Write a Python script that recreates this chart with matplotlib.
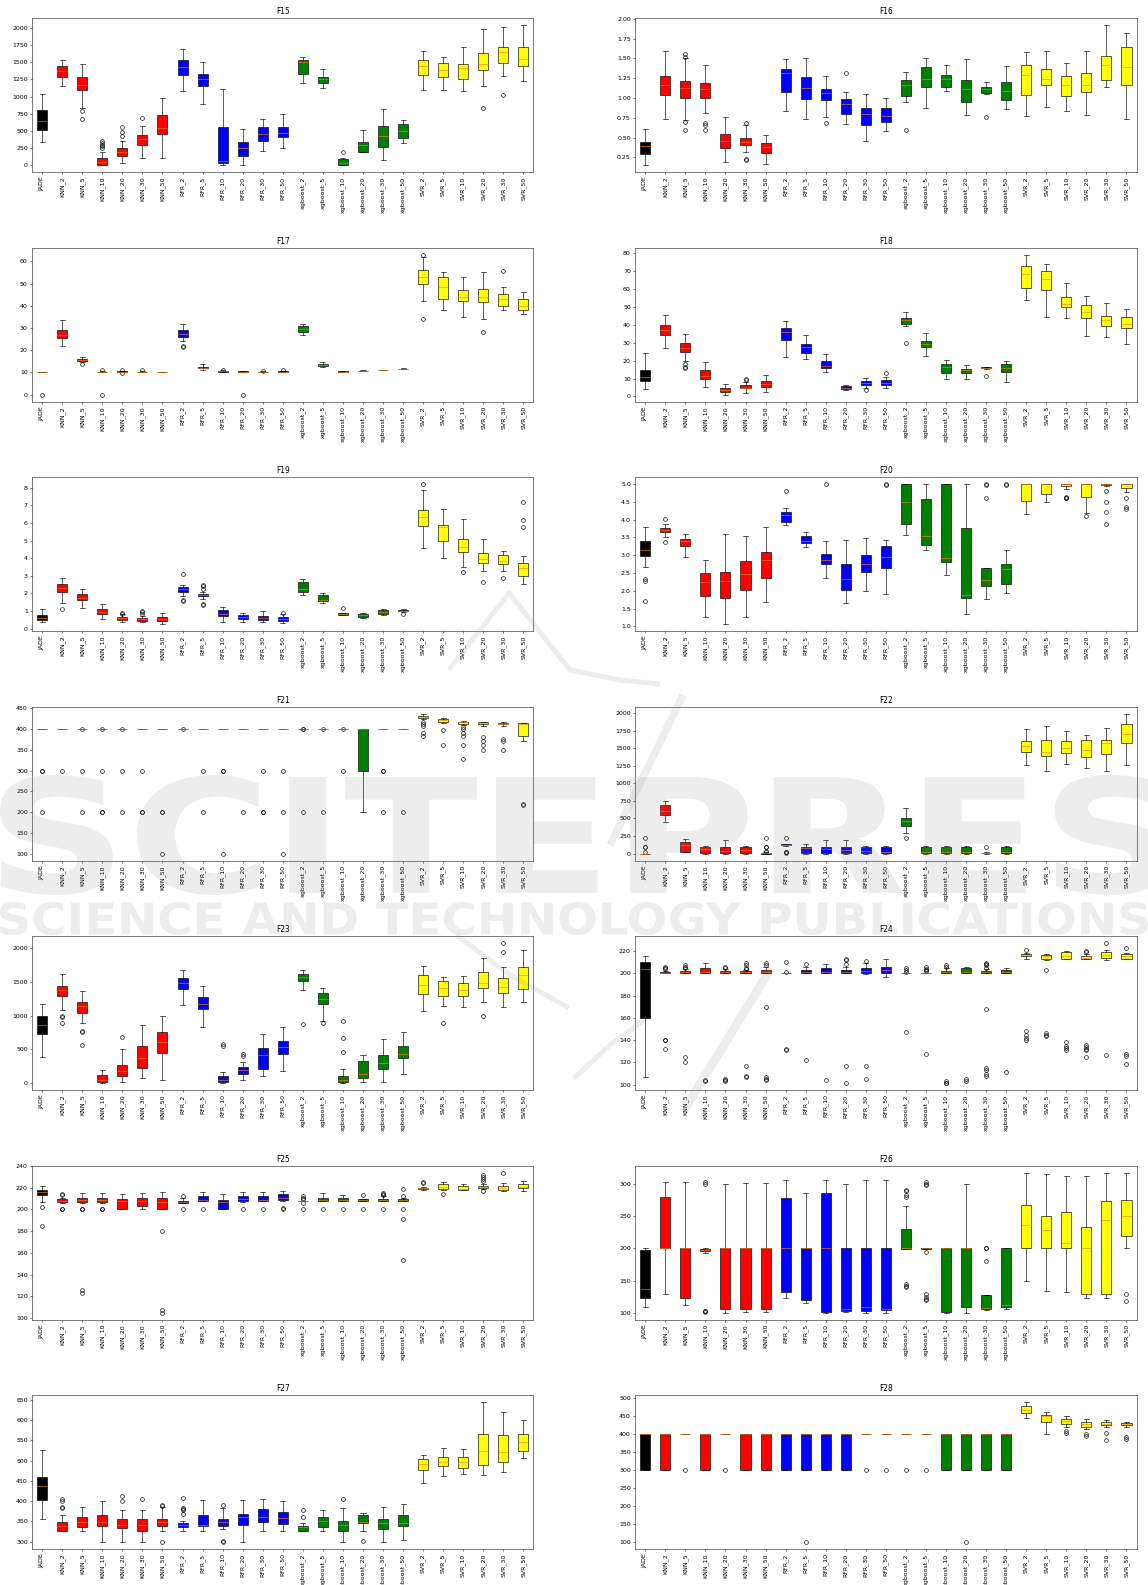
import numpy as np
import matplotlib.pyplot as plt
from matplotlib.ticker import MaxNLocator
from matplotlib.textpath import TextPath
from matplotlib.font_manager import FontProperties
from matplotlib.patches import PathPatch
from matplotlib.transforms import Affine2D
from matplotlib.lines import Line2D

labels = ['JADE', 'KNN_2', 'KNN_5', 'KNN_10', 'KNN_20', 'KNN_30', 'KNN_50',
          'RFR_2', 'RFR_5', 'RFR_10', 'RFR_20', 'RFR_30', 'RFR_50',
          'xgboost_2', 'xgboost_5', 'xgboost_10', 'xgboost_20', 'xgboost_30', 'xgboost_50',
          'SVR_2', 'SVR_5', 'SVR_10', 'SVR_20', 'SVR_30', 'SVR_50']
colors = ['black'] + ['red'] * 6 + ['blue'] * 6 + ['green'] * 6 + ['yellow'] * 6

# (whisker low, q1, median, q3, whisker high) per model, outliers keyed by model
f15_box = [(340, 510, 640, 810, 1040), (1150, 1290, 1380, 1440, 1540), (840, 1090, 1170, 1280, 1470),
           (0, 10, 40, 100, 200), (30, 140, 190, 250, 350), (110, 290, 380, 440, 570), (110, 460, 540, 730, 980),
           (1080, 1310, 1430, 1540, 1700), (890, 1150, 1260, 1330, 1510), (0, 30, 60, 550, 1110),
           (0, 140, 250, 340, 530), (210, 360, 460, 560, 670), (250, 410, 470, 550, 740),
           (1200, 1330, 1510, 1540, 1580), (1120, 1200, 1260, 1290, 1400), (0, 10, 30, 90, 110),
           (200, 200, 290, 340, 510), (70, 260, 420, 570, 820), (330, 390, 500, 600, 660),
           (1100, 1320, 1440, 1530, 1670), (1090, 1290, 1390, 1490, 1580), (1080, 1260, 1420, 1480, 1720),
           (1160, 1390, 1470, 1640, 1980), (1300, 1490, 1650, 1730, 2010), (1230, 1450, 1550, 1720, 2040)]
f15_out = {'KNN_5': [790, 670], 'KNN_10': [250, 280, 300, 330, 360], 'KNN_20': [420, 480, 550],
           'KNN_30': [690], 'xgboost_10': [200], 'SVR_20': [840], 'SVR_30': [1020]}

f16_box = [(0.15, 0.29, 0.39, 0.45, 0.61), (0.74, 1.04, 1.16, 1.28, 1.59), (0.72, 1.00, 1.13, 1.21, 1.50),
           (0.81, 1.00, 1.11, 1.19, 1.42), (0.19, 0.37, 0.46, 0.54, 0.76), (0.32, 0.40, 0.45, 0.50, 0.66),
           (0.17, 0.31, 0.38, 0.43, 0.53), (0.83, 1.08, 1.31, 1.37, 1.49), (0.73, 0.99, 1.13, 1.27, 1.51),
           (0.76, 0.97, 1.06, 1.12, 1.28), (0.67, 0.80, 0.92, 0.99, 1.07), (0.46, 0.66, 0.80, 0.87, 1.05),
           (0.58, 0.70, 0.77, 0.87, 1.00), (0.95, 1.03, 1.16, 1.23, 1.33), (0.87, 1.14, 1.24, 1.39, 1.51),
           (1.09, 1.14, 1.24, 1.29, 1.42), (0.79, 0.95, 1.12, 1.23, 1.49), (1.05, 1.06, 1.12, 1.14, 1.20),
           (0.86, 0.98, 1.09, 1.20, 1.40), (0.77, 1.04, 1.29, 1.42, 1.58), (0.89, 1.17, 1.24, 1.37, 1.59),
           (0.83, 1.03, 1.16, 1.28, 1.44), (0.78, 1.08, 1.17, 1.31, 1.59), (1.14, 1.23, 1.42, 1.53, 1.92),
           (0.74, 1.16, 1.39, 1.65, 1.82)]
f16_out = {'KNN_5': [0.70, 0.59, 1.52, 1.55], 'KNN_10': [0.69, 0.66, 0.59], 'KNN_30': [0.69, 0.23, 0.22],
           'RFR_10': [0.68], 'RFR_20': [1.32], 'xgboost_2': [0.60], 'xgboost_30': [0.76]}

f17_box = [(10.0, 10.1, 10.2, 10.3, 10.4), (22, 25.5, 27, 29, 33.5), (14.5, 15, 15.5, 16.2, 17),
           (10, 10, 10.2, 10.4, 10.6), (10, 10.1, 10.3, 10.5, 10.7), (10, 10.1, 10.2, 10.4, 10.5),
           (10.1, 10.15, 10.2, 10.25, 10.3), (24, 26, 27.5, 29, 32), (11, 11.8, 12.2, 12.6, 13.8),
           (10, 10.2, 10.5, 10.8, 11), (10, 10.1, 10.3, 10.5, 10.8), (10.1, 10.2, 10.3, 10.4, 10.5),
           (10.2, 10.3, 10.4, 10.5, 10.6), (27, 28.2, 29.5, 31, 32), (12.5, 13, 13.5, 14, 14.5),
           (10.3, 10.35, 10.4, 10.45, 10.5), (10.7, 10.75, 10.8, 10.85, 10.9), (11.1, 11.15, 11.2, 11.25, 11.3),
           (11.6, 11.65, 11.7, 11.75, 11.8), (42, 50, 53, 56, 62), (38, 43, 48.5, 53, 55),
           (35, 42, 44, 47, 53), (34, 41.5, 44, 47.5, 55), (38, 40, 43, 45.5, 48.5), (36.5, 38, 40, 43, 46)]
f17_out = {'JADE': [0], 'KNN_5': [13.8], 'KNN_10': [0, 11], 'KNN_20': [11.0, 9.7], 'KNN_30': [10.9],
           'RFR_2': [22, 21.5], 'RFR_10': [11.3], 'RFR_20': [0], 'RFR_30': [10.8], 'RFR_50': [11.0],
           'SVR_2': [63, 34], 'SVR_20': [28], 'SVR_30': [55.5]}

f18_box = [(4, 8.5, 11, 15, 24), (27, 34.5, 37, 40, 45.5), (20, 25, 27, 30, 35), (5.5, 9.5, 11.5, 15, 19),
           (1, 2.5, 3.8, 5, 7), (2, 4.5, 5, 6.5, 8), (2.5, 5.5, 7, 8.5, 12), (22, 31.5, 36, 38, 42),
           (21, 24, 27.5, 29, 34.5), (13.5, 16, 17, 19.5, 23.5), (3.5, 4.2, 5, 5.8, 6.5),
           (5, 6.5, 7.5, 8.5, 10.5), (5, 6.5, 7.5, 9, 11), (39, 40.5, 42.5, 44, 47), (22.5, 27.5, 29.5, 31, 35.5),
           (9.5, 13, 16.5, 18, 20.5), (9.5, 13, 14.5, 15.5, 17.5), (15.5, 15.8, 16, 16.3, 16.7),
           (8, 13.5, 16, 18, 19.5), (54, 60.5, 68, 72.5, 79), (44.5, 59.5, 65.5, 70, 74),
           (44, 50, 51.5, 55.5, 63), (33.5, 44, 47, 51, 56), (33, 39, 42.5, 45, 52), (29, 38, 40.5, 44.5, 49)]
f18_out = {'KNN_5': [18, 16.5, 16], 'KNN_30': [9.5, 9], 'RFR_30': [3.8], 'RFR_50': [13],
           'xgboost_2': [30], 'xgboost_30': [11.5]}

f19_box = [(0.35, 0.5, 0.62, 0.75, 1.1), (1.45, 2.05, 2.3, 2.55, 2.85), (1.15, 1.6, 1.75, 1.95, 2.25),
           (0.55, 0.8, 0.95, 1.1, 1.4), (0.4, 0.5, 0.58, 0.65, 0.8), (0.35, 0.45, 0.52, 0.62, 0.72),
           (0.25, 0.42, 0.55, 0.65, 0.88), (1.85, 2.1, 2.25, 2.35, 2.5), (1.7, 1.85, 1.9, 1.97, 2.1),
           (0.4, 0.72, 0.85, 1.08, 1.25), (0.4, 0.55, 0.65, 0.78, 0.9), (0.35, 0.5, 0.6, 0.7, 1.0),
           (0.3, 0.45, 0.55, 0.65, 0.8), (1.9, 2.1, 2.25, 2.65, 2.8), (1.45, 1.55, 1.6, 1.9, 2.0),
           (0.75, 0.78, 0.82, 0.87, 0.9), (0.6, 0.65, 0.75, 0.85, 0.9), (0.75, 0.85, 0.95, 1.05, 1.12),
           (0.92, 0.97, 1.0, 1.05, 1.1), (4.55, 5.85, 6.35, 6.75, 7.85), (4.0, 5.0, 5.75, 5.9, 6.8),
           (3.5, 4.35, 4.65, 5.1, 6.2), (3.25, 3.75, 3.95, 4.3, 5.1), (3.25, 3.65, 3.85, 4.15, 4.4),
           (2.55, 3.0, 3.45, 3.7, 4.1)]
f19_out = {'KNN_2': [1.1], 'KNN_20': [0.85, 0.9], 'KNN_30': [0.8, 0.95, 1.0], 'RFR_2': [3.1, 1.55, 1.6],
           'RFR_5': [2.25, 2.4, 2.5, 1.35, 1.4], 'RFR_50': [0.9], 'xgboost_10': [1.15], 'xgboost_50': [0.8],
           'SVR_2': [8.2], 'SVR_10': [3.2], 'SVR_20': [2.65], 'SVR_30': [2.85], 'SVR_50': [5.75, 6.15, 7.2]}

f20_box = [(2.68, 2.99, 3.16, 3.41, 3.8), (3.5, 3.65, 3.72, 3.78, 3.88), (2.96, 3.25, 3.4, 3.47, 3.6),
           (1.25, 1.86, 2.25, 2.51, 2.87), (1.06, 1.79, 2.28, 2.54, 3.61), (1.25, 2.01, 2.48, 2.84, 3.53),
           (1.67, 2.37, 2.87, 3.1, 3.8), (3.84, 3.93, 4.12, 4.23, 4.32), (3.22, 3.34, 3.41, 3.54, 3.64),
           (2.36, 2.75, 2.86, 3.03, 3.41), (1.65, 2.01, 2.33, 2.74, 3.44), (1.99, 2.54, 2.76, 3.02, 3.49),
           (1.92, 2.64, 2.96, 3.25, 3.42), (3.58, 3.87, 4.51, 5.0, 5.0), (3.16, 3.29, 3.55, 4.57, 5.0),
           (2.45, 2.82, 2.93, 5.0, 5.0), (1.36, 1.8, 1.88, 3.76, 5.0), (1.77, 2.13, 2.31, 2.65, 2.65),
           (1.94, 2.2, 2.6, 2.75, 3.16), (4.15, 4.52, 5.0, 5.0, 5.0), (4.5, 4.73, 5.0, 5.0, 5.0),
           (4.87, 4.95, 5.0, 5.0, 5.0), (4.2, 4.64, 5.0, 5.0, 5.0), (4.95, 4.98, 5.0, 5.0, 5.0),
           (4.78, 4.88, 5.0, 5.0, 5.0)]
f20_out = {'JADE': [2.28, 2.32, 1.72], 'KNN_2': [4.02, 3.38], 'RFR_2': [4.82], 'RFR_10': [5.0],
           'RFR_50': [5.0, 4.98], 'xgboost_30': [5.0, 4.98, 4.6], 'xgboost_50': [5.0, 4.99],
           'SVR_10': [4.6, 4.62, 4.65], 'SVR_20': [4.1], 'SVR_30': [4.82, 4.5, 4.22, 3.88],
           'SVR_50': [4.62, 4.35, 4.3]}

f21_box = [(400, 400, 400, 400, 400)] * 16 + [(200, 300, 400, 400, 400), (400, 400, 400, 400, 400),
           (400, 400, 400, 400, 400), (424, 426, 428, 432, 437), (415, 417, 421, 424, 426),
           (409, 411, 416, 418, 420), (408, 412, 414, 416, 418), (407, 411, 413, 415, 416),
           (370, 382, 412, 414, 414)]
f21_out = {'JADE': [300, 300, 200], 'KNN_2': [300], 'KNN_5': [400, 300, 200], 'KNN_10': [400, 300, 200, 200],
           'KNN_20': [400, 300, 200], 'KNN_30': [300, 200, 200], 'KNN_50': [200, 200, 100], 'RFR_2': [400],
           'RFR_5': [300, 200], 'RFR_10': [300, 300, 100], 'RFR_20': [200], 'RFR_30': [300, 200, 200],
           'RFR_50': [300, 200, 100], 'xgboost_2': [400, 400, 200], 'xgboost_5': [400, 200],
           'xgboost_10': [400, 300], 'xgboost_30': [300, 300, 200], 'xgboost_50': [200],
           'SVR_2': [418, 412, 408, 390, 382], 'SVR_5': [397, 362], 'SVR_10': [405, 400, 390, 382, 362, 328],
           'SVR_20': [380, 370, 362, 350], 'SVR_30': [376, 372, 350], 'SVR_50': [220, 216]}

f22_box = [(0, 0, 0, 0, 0), (450, 550, 610, 690, 750), (20, 30, 120, 160, 210), (0, 10, 60, 100, 110),
           (0, 10, 40, 100, 200), (0, 10, 50, 100, 110), (0, 0, 10, 10, 20), (110, 120, 125, 130, 140),
           (0, 10, 80, 100, 130), (0, 10, 60, 100, 200), (0, 10, 50, 100, 200), (0, 10, 40, 100, 110),
           (0, 10, 30, 100, 110), (300, 390, 460, 510, 650), (0, 10, 20, 100, 110), (0, 10, 20, 100, 110),
           (0, 10, 20, 100, 110), (0, 5, 10, 15, 20), (0, 10, 30, 100, 110), (1260, 1440, 1530, 1600, 1770),
           (1180, 1390, 1450, 1610, 1820), (1270, 1430, 1500, 1600, 1750), (1220, 1380, 1470, 1620, 1680),
           (1170, 1410, 1570, 1620, 1790), (1260, 1570, 1700, 1840, 1990)]
f22_out = {'JADE': [220, 100, 95, 20], 'KNN_50': [220, 100, 100, 30, 40], 'RFR_2': [220, 30, 10, 20],
           'xgboost_2': [215], 'xgboost_30': [100]}

f23_box = [(390, 730, 860, 1000, 1180), (1080, 1290, 1380, 1440, 1620), (900, 1040, 1140, 1210, 1370),
           (0, 20, 50, 120, 200), (20, 110, 180, 270, 510), (70, 220, 380, 550, 870), (50, 450, 610, 760, 990),
           (1160, 1400, 1480, 1560, 1680), (840, 1100, 1170, 1280, 1440), (0, 20, 40, 110, 160),
           (40, 140, 190, 240, 320), (100, 210, 410, 520, 730), (180, 430, 540, 620, 830),
           (1380, 1510, 1570, 1620, 1680), (920, 1170, 1250, 1340, 1420), (0, 20, 50, 110, 210),
           (10, 80, 140, 330, 420), (10, 210, 300, 410, 650), (140, 380, 430, 550, 760),
           (1070, 1320, 1450, 1610, 1740), (1150, 1300, 1410, 1520, 1580), (1130, 1290, 1390, 1490, 1590),
           (1200, 1420, 1480, 1650, 1860), (1130, 1340, 1430, 1560, 1720), (1200, 1400, 1600, 1730, 1980)]
f23_out = {'KNN_2': [1000, 980, 900], 'KNN_5': [780, 760, 570], 'KNN_20': [680], 'RFR_10': [580, 550],
           'RFR_20': [430, 400], 'xgboost_2': [880], 'xgboost_5': [900], 'xgboost_10': [920, 670, 460],
           'SVR_5': [900], 'SVR_20': [990], 'SVR_30': [2080, 1950]}

f24_box = [(107, 160, 204, 210, 215), (200, 200, 200, 201, 202), (200, 200, 201, 202, 204),
           (200, 200, 201, 205, 209), (200, 200, 201, 202, 204), (200, 200, 201, 202, 203),
           (200, 200, 201, 203, 206), (200, 200, 200, 200, 200), (200, 200, 201, 203, 206),
           (200, 200, 201, 205, 208), (200, 200, 201, 203, 206), (199, 200, 202, 205, 209),
           (197, 200, 203, 206, 213), (200, 200, 200, 200, 200), (200, 200, 200, 200, 200),
           (200, 200, 201, 202, 205), (200, 200, 201, 205, 206), (200, 200, 201, 202, 204),
           (200, 200, 201, 203, 205), (213, 215, 216, 217, 218), (212, 213, 215, 216, 217),
           (213, 213, 215, 219, 220), (213, 213, 214, 215, 217), (212, 214, 216, 219, 221),
           (213, 213, 215, 217, 218)]
f24_out = {'KNN_2': [206, 205, 204, 140, 140.5, 132], 'KNN_5': [207, 206, 205, 125, 120], 'KNN_10': [104, 103],
           'KNN_20': [206, 205, 105, 104, 103], 'KNN_30': [209, 207, 205, 204, 117, 108, 107],
           'KNN_50': [209, 207, 170, 107, 105, 104], 'RFR_2': [210, 201, 132, 131], 'RFR_5': [208, 122],
           'RFR_10': [104], 'RFR_20': [213, 212, 208, 117, 102], 'RFR_30': [211, 117, 105],
           'xgboost_2': [205, 203, 201, 147], 'xgboost_5': [206, 204, 203, 202, 128],
           'xgboost_10': [206, 207, 103, 102, 101.5], 'xgboost_20': [105, 103],
           'xgboost_30': [209, 208, 207, 205, 168, 115, 113, 110, 108], 'xgboost_50': [111],
           'SVR_2': [221, 148, 145, 142, 140], 'SVR_5': [203, 146, 145, 144], 'SVR_10': [138, 135, 133, 131],
           'SVR_20': [220, 219, 136, 134, 132, 131, 125], 'SVR_30': [227, 127], 'SVR_50': [223, 128, 126, 119]}

f25_box = [(207, 213, 216, 218, 222), (206, 207, 208, 210, 211), (206, 207, 209, 211, 215),
           (206, 207, 209, 211, 215), (200, 200, 208, 210, 214), (200, 203, 208, 211, 215),
           (200, 200, 207, 211, 216), (206, 206, 207, 208, 211), (208, 208, 209, 212, 216),
           (200, 200, 207, 209, 214), (207, 208, 210, 212, 216), (208, 208, 209, 212, 216),
           (208, 209, 211, 214, 217), (208, 208, 208, 208, 208), (208, 208, 209, 211, 215),
           (208, 208, 209, 211, 213), (208, 208, 209, 210, 210), (208, 208, 209, 210, 212),
           (208, 208, 209, 210, 211), (218, 219, 220, 220, 221), (218, 219, 221, 223, 225),
           (218, 218, 219, 222, 223), (219, 220, 221, 222, 223), (217, 218, 220, 222, 224),
           (217, 220, 221, 223, 226)]
f25_out = {'JADE': [202, 185], 'KNN_2': [214, 213, 200, 200], 'KNN_5': [200, 200, 126, 123], 'KNN_10': [200, 200],
           'KNN_50': [180, 107, 105], 'RFR_2': [212, 200], 'RFR_5': [200], 'RFR_20': [200], 'RFR_30': [200],
           'RFR_50': [201, 200], 'xgboost_2': [212, 211, 210, 206, 200], 'xgboost_5': [200], 'xgboost_10': [200],
           'xgboost_20': [213, 200], 'xgboost_30': [215, 214, 213, 200], 'xgboost_50': [219, 212, 200, 191, 153],
           'SVR_2': [225, 224], 'SVR_5': [214], 'SVR_20': [232, 230, 228, 226, 217], 'SVR_30': [234]}

f26_box = [(109, 124, 138, 197, 201), (129, 200, 200, 280, 303), (112, 123, 200, 200, 303),
           (193, 196, 198, 199, 201), (101, 107, 200, 200, 300), (102, 107, 200, 200, 301),
           (102, 106, 200, 200, 301), (124, 133, 200, 277, 306), (115, 121, 200, 200, 286),
           (101, 102, 201, 286, 305), (102, 104, 106, 201, 300), (101, 104, 110, 201, 305),
           (101, 105, 106, 200, 305), (199, 199, 200, 230, 265), (199, 199, 200, 200, 201),
           (101, 102, 200, 200, 200), (101, 109, 200, 200, 300), (105, 106, 108, 128, 128),
           (107, 109, 112, 200, 200), (149, 200, 236, 267, 316), (135, 200, 229, 250, 315),
           (133, 200, 209, 256, 312), (124, 130, 200, 233, 311), (124, 130, 244, 273, 317),
           (200, 219, 250, 274, 316)]
f26_out = {'KNN_10': [303, 300, 104, 103, 102], 'xgboost_2': [290, 288, 282, 280, 145, 142, 140],
           'xgboost_5': [302, 300, 298, 195, 130, 125, 122, 120], 'xgboost_30': [201, 200, 180],
           'SVR_50': [130, 119]}

f27_box = [(356, 404, 437, 459, 526), (325, 325, 338, 348, 366), (325, 337, 348, 362, 385),
           (300, 338, 348, 365, 400), (300, 333, 342, 357, 378), (300, 327, 342, 355, 379),
           (325, 338, 348, 356, 385), (325, 336, 340, 347, 352), (325, 338, 342, 365, 404),
           (331, 338, 348, 357, 383), (300, 340, 360, 369, 404), (325, 348, 362, 381, 405),
           (325, 344, 358, 374, 400), (325, 325, 336, 338, 346), (325, 337, 350, 362, 377),
           (300, 325, 342, 352, 382), (325, 345, 348, 365, 370), (300, 331, 347, 356, 385),
           (303, 338, 346, 366, 392), (446, 477, 493, 503, 514), (461, 488, 496, 509, 531),
           (468, 481, 497, 509, 529), (464, 490, 523, 565, 645), (472, 497, 521, 563, 620),
           (507, 523, 545, 565, 600)]
f27_out = {'KNN_2': [405, 400, 385, 383], 'KNN_20': [412, 400], 'KNN_30': [405], 'KNN_50': [390, 388, 300],
           'RFR_2': [408, 383, 380, 377, 368], 'RFR_10': [390, 301, 299], 'xgboost_2': [378, 360],
           'xgboost_10': [406], 'xgboost_20': [302]}

f28_box = [(300, 300, 400, 400, 400), (300, 300, 400, 400, 400), (400, 400, 400, 400, 400),
           (300, 300, 400, 400, 400), (400, 400, 400, 400, 400), (300, 300, 400, 400, 400),
           (300, 300, 400, 400, 400), (300, 300, 400, 400, 400), (300, 300, 400, 400, 400),
           (300, 300, 400, 400, 400), (300, 300, 400, 400, 400), (400, 400, 400, 400, 400),
           (400, 400, 400, 400, 400), (400, 400, 400, 400, 400), (400, 400, 400, 400, 400),
           (300, 300, 400, 400, 400), (300, 300, 400, 400, 400), (300, 300, 400, 400, 400),
           (300, 300, 400, 400, 400), (445, 460, 468, 480, 490), (400, 435, 450, 455, 462),
           (420, 430, 437, 443, 450), (415, 420, 428, 435, 442), (420, 425, 430, 435, 440),
           (420, 425, 428, 432, 435)]
f28_out = {'KNN_5': [300], 'KNN_20': [300], 'RFR_5': [100], 'RFR_30': [300], 'RFR_50': [300],
           'xgboost_2': [300], 'xgboost_5': [300], 'xgboost_20': [100], 'SVR_10': [410, 405],
           'SVR_20': [400, 395], 'SVR_30': [405, 385], 'SVR_50': [392, 388]}

panels = [('F15', f15_box, f15_out), ('F16', f16_box, f16_out), ('F17', f17_box, f17_out),
          ('F18', f18_box, f18_out), ('F19', f19_box, f19_out), ('F20', f20_box, f20_out),
          ('F21', f21_box, f21_out), ('F22', f22_box, f22_out), ('F23', f23_box, f23_out),
          ('F24', f24_box, f24_out), ('F25', f25_box, f25_out), ('F26', f26_box, f26_out),
          ('F27', f27_box, f27_out), ('F28', f28_box, f28_out)]

DPI = 45
W, H = 1148.0, 1585.0
fig, axes = plt.subplots(7, 2, figsize=(W / DPI, H / DPI), dpi=DPI)
fig.subplots_adjust(left=0.028, right=0.990, top=0.9885, bottom=0.0227, wspace=0.203, hspace=0.49)

for ax, (name, box, out) in zip(axes.flat, panels):
    stats = []
    for lab, (lo, q1, med, q3, hi) in zip(labels, box):
        stats.append(dict(label=lab, whislo=lo, q1=q1, med=med, q3=q3, whishi=hi,
                          fliers=np.array(out.get(lab, []), dtype=float)))
    bp = ax.bxp(stats, patch_artist=True)
    for patch, c in zip(bp['boxes'], colors):
        patch.set_facecolor(c)
    ax.set_title(name)
    ax.yaxis.set_major_locator(MaxNLocator(nbins=9, steps=[1, 2, 2.5, 5, 10]))
    ax.tick_params(axis='x', labelrotation=90)

MARK = dict(color='#808080', alpha=0.14)


def stamp(text, x0, x1, y0, y1):
    # stretch a bold text outline into a box given in pixels from the top-left corner
    tp = TextPath((0, 0), text, prop=FontProperties(family='DejaVu Sans', weight='bold'))
    bb = tp.get_extents()
    tr = (Affine2D().translate(-bb.x0, -bb.y0)
          .scale((x1 - x0) / W / bb.width, (y1 - y0) / H / bb.height)
          .translate(x0 / W, 1 - y1 / H))
    fig.add_artist(PathPatch(tr.transform_path(tp), transform=fig.transFigure,
                             facecolor=MARK['color'], edgecolor='none', alpha=MARK['alpha'], zorder=10))


def stroke(xs, ys, width):
    fig.add_artist(Line2D(np.array(xs) / W, 1 - np.array(ys) / H, transform=fig.transFigure,
                          lw=width, solid_capstyle='butt', zorder=10, **MARK))


stamp('SCITEPRESS', 0, 1300, 775, 895)
stamp('SCIENCE AND TECHNOLOGY PUBLICATIONS', 0, 1148, 902, 935)

# publisher logo strokes
stroke([449, 509, 570, 620, 660], [670, 593, 670, 680, 684], 8)
stroke([683, 610], [695, 845], 12)
stroke([771, 683], [968, 1112], 14)
stroke([456, 510, 569], [935, 975, 1008], 8)
stroke([574, 610, 647], [1078, 1045, 1018], 8)

fig.savefig('out.png', dpi=DPI)
